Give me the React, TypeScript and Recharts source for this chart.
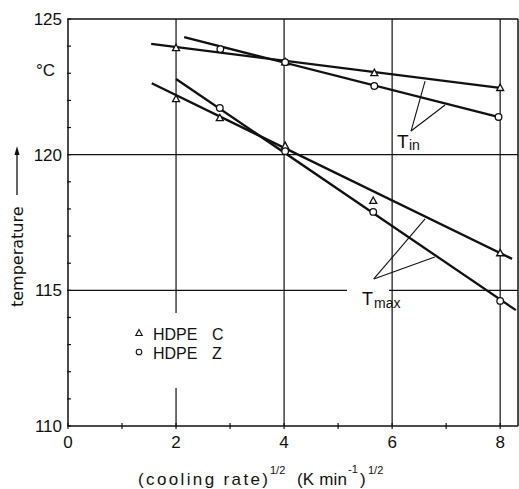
import React from "react"
import { ComposedChart, Line, Scatter, XAxis, YAxis, ReferenceLine } from "recharts"

// axis ticks
const xTicks = [0, 1, 2, 3, 4, 5, 6, 7, 8]
const xLabelled = [0, 2, 4, 6, 8]
const yTicks = [110, 111, 112, 113, 114, 115, 116, 117, 118, 119, 120, 121, 122, 123, 124, 125]
const yLabelled = [110, 115, 120, 125]

// measured points, HDPE C (triangles)
const tinC = [
  { x: 2, t: 123.93 },
  { x: 4.02, t: 123.41 },
  { x: 5.67, t: 123.01 },
  { x: 8, t: 122.46 },
]
const tmaxC = [
  { x: 2, t: 122.05 },
  { x: 2.81, t: 121.35 },
  { x: 4.02, t: 120.32 },
  { x: 5.65, t: 118.3 },
  { x: 8, t: 116.37 },
]

// measured points, HDPE Z (circles)
const tinZ = [
  { x: 2.82, t: 123.89 },
  { x: 4.02, t: 123.41 },
  { x: 5.67, t: 122.53 },
  { x: 7.97, t: 121.39 },
]
const tmaxZ = [
  { x: 2.81, t: 121.72 },
  { x: 4.02, t: 120.13 },
  { x: 5.65, t: 117.89 },
  { x: 8, t: 114.61 },
]

// drawn straight lines (end points)
const tinCFit = [{ x: 1.54, t: 124.08 }, { x: 8.03, t: 122.45 }]
const tinZFit = [{ x: 2.15, t: 124.33 }, { x: 7.96, t: 121.39 }]
const tmaxCFit = [{ x: 1.55, t: 122.63 }, { x: 8.22, t: 116.16 }]
const tmaxZFit = [{ x: 2.0, t: 122.79 }, { x: 8.29, t: 114.27 }]

// leader lines to the T labels
const tinLeaders = [
  [{ x: 6.35, y: 120.87 }, { x: 6.61, y: 122.71 }],
  [{ x: 6.35, y: 120.87 }, { x: 6.98, y: 121.83 }],
]
const tmaxLeaders = [
  [{ x: 5.66, y: 115.42 }, { x: 6.61, y: 117.63 }],
  [{ x: 5.66, y: 115.42 }, { x: 6.79, y: 116.23 }],
]

const ink = "#111"
const font = "Liberation Sans"

const Triangle = (p: any) => (
  <polygon
    points={`${p.cx},${p.cy - 3.8} ${p.cx - 3.5},${p.cy + 2.6} ${p.cx + 3.5},${p.cy + 2.6}`}
    fill="#fff"
    stroke={ink}
    strokeWidth={1.3}
  />
)

const Circle = (p: any) => (
  <circle cx={p.cx} cy={p.cy} r={3.3} fill="#fff" stroke={ink} strokeWidth={1.3} />
)

const XTick = (p: any) => {
  const { x, y, payload } = p
  return (
    <g>
      <line x1={x} x2={x} y1={y - 3} y2={y + 3} stroke={ink} strokeWidth={1.2} />
      {xLabelled.includes(payload.value) && (
        <text x={x} y={y + 22} textAnchor="middle" fontSize={17} fontFamily={font} fill={ink}>
          {payload.value}
        </text>
      )}
    </g>
  )
}

const YTick = (p: any) => {
  const { x, y, payload } = p
  return (
    <g>
      <line x1={x - 1} x2={x + 3} y1={y} y2={y} stroke={ink} strokeWidth={1.2} />
      {yLabelled.includes(payload.value) && (
        <text x={x - 6} y={y + 6} textAnchor="end" fontSize={17} fontFamily={font} fill={ink}>
          {payload.value}
        </text>
      )}
    </g>
  )
}

export default function App() {
  return (
    <div style={{ position: "absolute", left: 0, top: 0, width: 519, height: 489, background: "#fff" }}>
      <ComposedChart
        width={519}
        height={489}
        margin={{ top: 19, right: 1, bottom: 33, left: 8 }}
      >
        <XAxis
          type="number"
          dataKey="x"
          domain={[0, 8.33]}
          ticks={xTicks}
          interval={0}
          height={30}
          tickSize={0}
          tickMargin={0}
          tickLine={false}
          tick={<XTick />}
          axisLine={{ stroke: ink, strokeWidth: 1.5 }}
          allowDataOverflow
        />
        <YAxis
          type="number"
          dataKey="t"
          domain={[110, 125]}
          ticks={yTicks}
          interval={0}
          width={60}
          tickSize={0}
          tickMargin={0}
          tickLine={false}
          tick={<YTick />}
          axisLine={{ stroke: ink, strokeWidth: 1.5 }}
          allowDataOverflow
        />

        {/* grid and frame */}
        {[2, 4, 6, 8].map((v) => (
          <ReferenceLine key={"gx" + v} x={v} stroke={ink} strokeWidth={1.2} />
        ))}
        {[115, 120].map((v) => (
          <ReferenceLine key={"gy" + v} y={v} stroke={ink} strokeWidth={1.2} />
        ))}
        <ReferenceLine y={125} stroke={ink} strokeWidth={1.5} />
        <ReferenceLine x={8.33} stroke={ink} strokeWidth={1.5} />

        {/* leaders */}
        {[...tinLeaders, ...tmaxLeaders].map((s, i) => (
          <ReferenceLine key={"ld" + i} segment={s} stroke={ink} strokeWidth={1.1} />
        ))}

        <Line data={tinCFit} dataKey="t" stroke={ink} strokeWidth={2.3} dot={false} isAnimationActive={false} />
        <Line data={tinZFit} dataKey="t" stroke={ink} strokeWidth={2.3} dot={false} isAnimationActive={false} />
        <Line data={tmaxCFit} dataKey="t" stroke={ink} strokeWidth={2.3} dot={false} isAnimationActive={false} />
        <Line data={tmaxZFit} dataKey="t" stroke={ink} strokeWidth={2.3} dot={false} isAnimationActive={false} />

        <Scatter data={tinC} shape={Triangle} isAnimationActive={false} />
        <Scatter data={tmaxC} shape={Triangle} isAnimationActive={false} />
        <Scatter data={tinZ} shape={Circle} isAnimationActive={false} />
        <Scatter data={tmaxZ} shape={Circle} isAnimationActive={false} />
      </ComposedChart>

      <svg
        width={519}
        height={489}
        style={{ position: "absolute", left: 0, top: 0, pointerEvents: "none" }}
        fontFamily={font}
        fill={ink}
      >
        <text x={36} y={76} fontSize={17}>°C</text>

        {/* y title with arrow */}
        <text x={23} y={307} fontSize={16} fontFamily="DejaVu Sans" transform="rotate(-90 23 307)">
          temperature
        </text>
        <line x1={17} x2={17} y1={195} y2={153} stroke={ink} strokeWidth={1.3} />
        <polygon points="17,146 14.5,155 19.5,155" fill={ink} />

        {/* x title */}
        <g fontSize={17}>
          <text x={138} y={485} textLength={130} lengthAdjust="spacing">(cooling rate)</text>
          <text x={270} y={474} fontSize={11}>1/2</text>
          <text x={297} y={485} textLength={50} lengthAdjust="spacing">(K min</text>
          <text x={348} y={473} fontSize={11}>-1</text>
          <text x={360} y={485}>)</text>
          <text x={368} y={474} fontSize={11}>1/2</text>
        </g>

        {/* legend */}
        <rect x={168} y={313} width={16} height={75} fill="#fff" />
        <polygon points="139,329.5 135.8,335.5 142.2,335.5" fill="#fff" stroke={ink} strokeWidth={1.1} />
        <circle cx={139} cy={352} r={2.8} fill="#fff" stroke={ink} strokeWidth={1.1} />
        <text x={153} y={340} fontSize={16}>HDPE</text>
        <text x={212} y={340} fontSize={16}>C</text>
        <text x={153} y={359} fontSize={16}>HDPE</text>
        <text x={212} y={359} fontSize={16}>Z</text>

        {/* T labels */}
        <text x={397} y={148} fontSize={19}>T</text>
        <text x={409} y={150} fontSize={14}>in</text>
        <rect x={347} y={289} width={42} height={8} fill="#fff" />
        <text x={362} y={305} fontSize={18}>T</text>
        <text x={374} y={308} fontSize={14}>max</text>
      </svg>
    </div>
  )
}
